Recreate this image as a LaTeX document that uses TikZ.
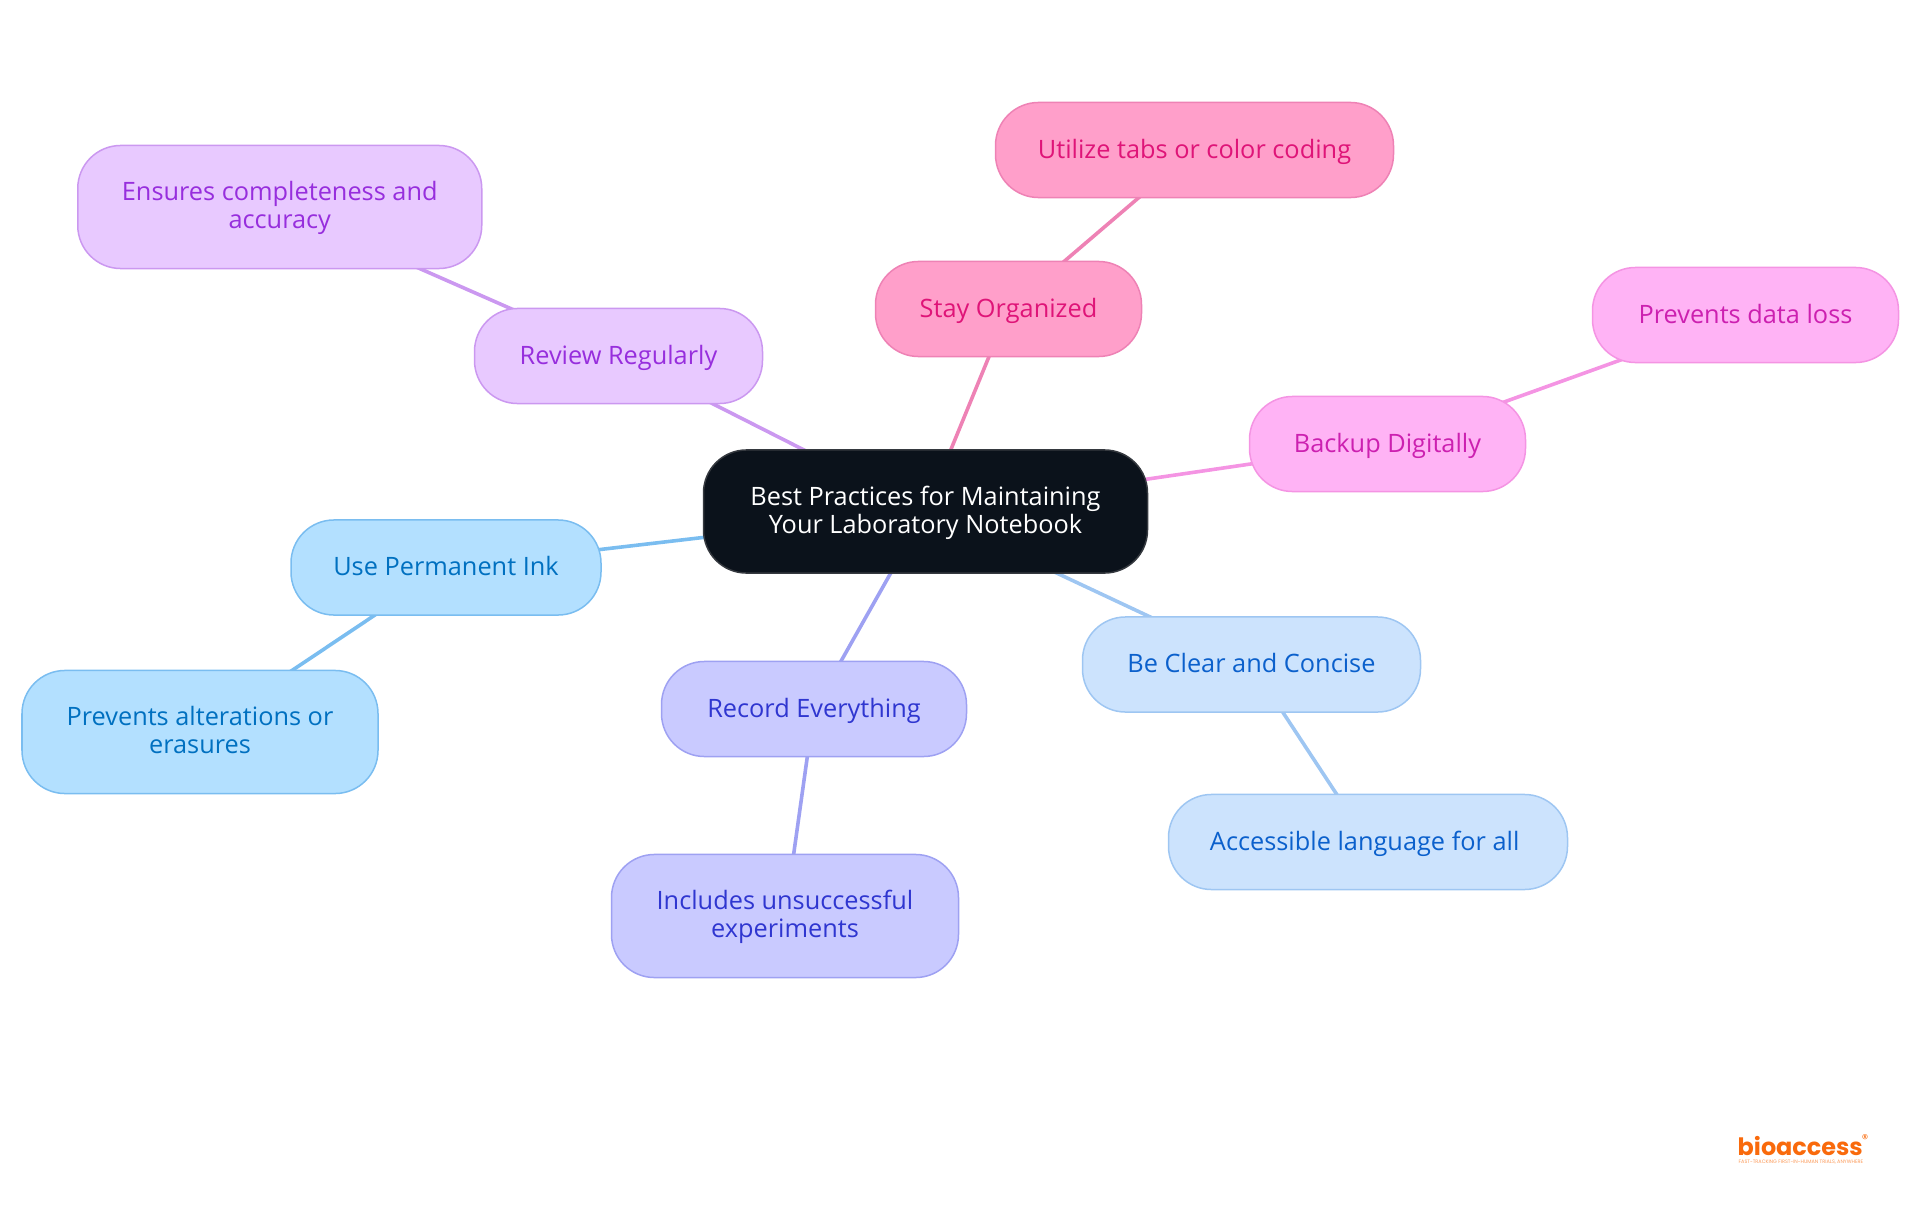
\documentclass[tikz,border=0pt]{standalone}
\usepackage{fontspec}
\setmainfont{Open Sans}
\newfontfamily\logofont{Poppins}
\usetikzlibrary{backgrounds}

% branch colours: fill, line, text
\definecolor{rootfill}{HTML}{0B121B}
\definecolor{rootline}{HTML}{35393F}
\definecolor{reviewfill}{HTML}{E8C9FF}
\definecolor{reviewline}{HTML}{CB98F0}
\definecolor{reviewtext}{HTML}{972EDD}
\definecolor{stayfill}{HTML}{FF9FCA}
\definecolor{stayline}{HTML}{EE82B5}
\definecolor{staytext}{HTML}{DF1478}
\definecolor{backupfill}{HTML}{FFB3F5}
\definecolor{backupline}{HTML}{F494E3}
\definecolor{backuptext}{HTML}{CC20B0}
\definecolor{inkfill}{HTML}{B3E0FF}
\definecolor{inkline}{HTML}{7ABDF0}
\definecolor{inktext}{HTML}{0070C0}
\definecolor{recordfill}{HTML}{C9CAFF}
\definecolor{recordline}{HTML}{9EA1F2}
\definecolor{recordtext}{HTML}{2F36D0}
\definecolor{clearfill}{HTML}{CCE3FD}
\definecolor{clearline}{HTML}{9EC6F2}
\definecolor{cleartext}{HTML}{0B60CC}
\definecolor{logoorange}{HTML}{F96A0C}

\tikzset{
  mapnode/.style={draw, rectangle, rounded corners=0.43cm, inner sep=0pt, line width=0.015cm, align=center,
    font=\fontsize{7.2}{7.97}\selectfont},
  oneline/.style={minimum height=0.95cm, text height=0.16cm, text depth=0cm},
  twoline/.style={minimum height=1.23cm, text height=0.435cm, text depth=0cm},
  rootbox/.style={mapnode, fill=rootfill, draw=rootline, text=white},
  reviewbox/.style={mapnode, fill=reviewfill, draw=reviewline, text=reviewtext},
  staybox/.style={mapnode, fill=stayfill, draw=stayline, text=staytext},
  backupbox/.style={mapnode, fill=backupfill, draw=backupline, text=backuptext},
  inkbox/.style={mapnode, fill=inkfill, draw=inkline, text=inktext},
  recordbox/.style={mapnode, fill=recordfill, draw=recordline, text=recordtext},
  clearbox/.style={mapnode, fill=clearfill, draw=clearline, text=cleartext},
  mapedge/.style={line width=0.036cm}
}

\begin{document}
\begin{tikzpicture}[x=0.01cm, y=-0.01cm]
    \useasboundingbox (0,0) rectangle (1920,1215);

    % Draw the boxes
    \foreach \name/\x/\y/\w/\kind/\lines/\txt in {
        root/925.5/511.5/444/rootbox/twoline/{Best Practices for Maintaining\\Your Laboratory Notebook},
        review/618.5/356/288/reviewbox/oneline/{Review Regularly},
        ensures/279.75/207/404/reviewbox/twoline/{Ensures completeness and\\accuracy},
        stay/1008.5/309/266/staybox/oneline/{Stay Organized},
        utilize/1194.5/150/398/staybox/oneline/{Utilize tabs or color coding},
        backup/1387.5/444/276/backupbox/oneline/{Backup Digitally},
        dataloss/1745.5/315/306/backupbox/oneline/{Prevents data loss},
        ink/446/567.5/310/inkbox/oneline/{Use Permanent Ink},
        alterations/200/732/356/inkbox/twoline/{Prevents alterations or\\erasures},
        record/814/709/305/recordbox/oneline/{Record Everything},
        unsuccessful/785/916/347/recordbox/twoline/{Includes unsuccessful\\experiments},
        clear/1251.5/664.5/338/clearbox/oneline/{Be Clear and Concise},
        accessible/1368/842/399/clearbox/oneline/{Accessible language for all}
    } {
      \node[\kind, \lines, minimum width=\w*0.01cm] (\name) at (\x,\y) {\txt};
    }

    % Connectors go behind the boxes
    \begin{pgfonlayer}{background}
      \foreach \a/\b/\c in {root/review/reviewline, review/ensures/reviewline, root/stay/stayline, stay/utilize/stayline,
          root/backup/backupline, backup/dataloss/backupline, root/ink/inkline, ink/alterations/inkline,
          root/record/recordline, record/unsuccessful/recordline, root/clear/clearline, clear/accessible/clearline} {
        \draw[mapedge, \c] (\a.center) -- (\b.center);
      }
    \end{pgfonlayer}

    % Logo
    \node[anchor=base west, inner sep=0pt, text=logoorange, font=\logofont\bfseries\fontsize{6.8}{8}\selectfont] (logo) at (1737,1155) {bioaccess};
    \node[inner sep=0pt, text=logoorange, font=\logofont\fontsize{3.6}{4}\selectfont] (logomark) at (1865,1139.5) {®};
    \node[anchor=base west, inner sep=0pt, text=logoorange!70, font=\logofont\fontsize{1.4}{1.6}\selectfont] (tagline) at (1738,1163.5) {FAST-TRACKING FIRST-IN-HUMAN TRIALS, ANYWHERE};
\end{tikzpicture}
\end{document}
